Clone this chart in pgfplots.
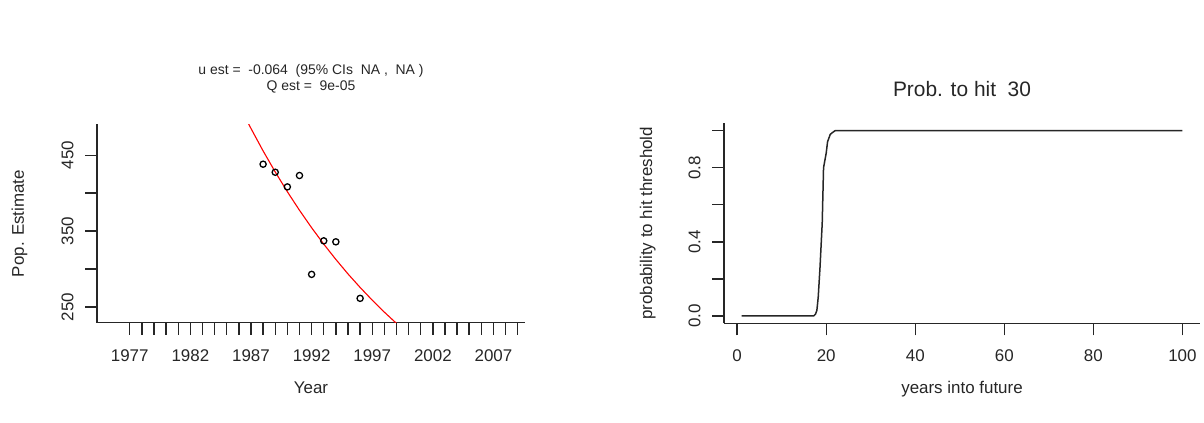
\documentclass[border=0pt]{standalone}
\usepackage{fontspec}
\setmainfont{Liberation Sans}
\usepackage{pgfplots}
\pgfplotsset{compat=1.18}
\begin{document}
\begin{tikzpicture}
\useasboundingbox (0,0) rectangle (1204bp,423bp);
\pgfplotsset{
  rstyle/.style={
    scale only axis, axis lines=left,
    axis line style={-, line width=1.4bp, black!85},
    tick align=outside, major tick length=12bp, minor tick length=12bp,
    every tick/.style={line width=1.4bp, black!85},
    tick label style={font=\fontsize{17}{20}\selectfont, text=black!85},
    label style={font=\fontsize{17}{20}\selectfont, text=black!85},
    /pgf/number format/assume math mode=true,
    yticklabel style={rotate=90, anchor=south},
    xticklabel shift=11bp, yticklabel shift=8bp,
  }
}
% Left panel
\begin{axis}[rstyle,
  at={(97bp,100.3bp)}, anchor=south west,
  width=428bp, height=198.4bp,
  xmin=1974.3, xmax=2009.6, ymin=229.3, ymax=490.8,
  xtick={1977,1982,...,2007}, minor xtick={1977,...,2009},
  xticklabels={1977,1982,1987,1992,1997,2002,2007},
  ytick={250,300,...,450}, yticklabels={250,,350,,450},
  xlabel={Year}, ylabel={Pop. Estimate},
  xlabel style={at={(axis description cs:0.5,-0.33)}, anchor=center},
  ylabel style={at={(axis description cs:-0.181,0.5)}, anchor=center},
  title={u est =\ \ -0.064\ \ (95\% CIs\ \ NA ,\ \ NA )\\Q est =\ \ 9e-05},
  title style={align=center, font=\fontsize{14}{16}\selectfont, text=black!85,
    at={(axis description cs:0.5,1.2)}, anchor=center},
]
\addplot[red, line width=1.1bp] coordinates {
 (1986,516.7) (1987,485.3) (1988,455.7) (1989,428.0) (1990,401.9)
 (1991,377.5) (1992,354.5) (1993,332.9) (1994,312.7) (1995,293.6)
 (1996,275.8) (1997,259.0) (1998,243.2) (1999,228.4) (2000,214.5)};
\addplot[only marks, mark=o, mark size=3.1bp, mark options={line width=1.3bp, black}] coordinates {
 (1988,438.2) (1989,427.6) (1990,408.3) (1991,423.3)
 (1992,293.0) (1993,337.2) (1994,335.9) (1996,261.4)};
\end{axis}
% Right panel
\begin{axis}[rstyle,
  at={(724bp,99.7bp)}, anchor=south west,
  width=476bp, height=200bp,
  xmin=-2.96, xmax=103.96, ymin=-0.04, ymax=1.04,
  xtick={0,20,...,100},
  ytick={0,0.2,...,1}, yticklabels={0.0,,0.4,,0.8,},
  xlabel={years into future}, ylabel={probability to hit threshold},
  xlabel style={at={(axis description cs:0.5,-0.33)}, anchor=center},
  ylabel style={at={(axis description cs:-0.16,0.5)}, anchor=center},
  title={Prob. to hit\ \ 30},
  title style={font=\fontsize{21}{25}\selectfont, text=black!85,
    at={(axis description cs:0.5,1.14)}, anchor=center},
]
\addplot[black!85, line width=1.5bp] coordinates {
 (1,0) (17.2,0) (17.6,0.01) (17.9,0.03) (18.2,0.10) (18.6,0.26)
 (19.1,0.50) (19.4,0.80) (20.0,0.88) (20.3,0.94) (20.9,0.98)
 (21.4,0.99) (22,1.0) (100,1.0)};
\end{axis}
\end{tikzpicture}
\end{document}
